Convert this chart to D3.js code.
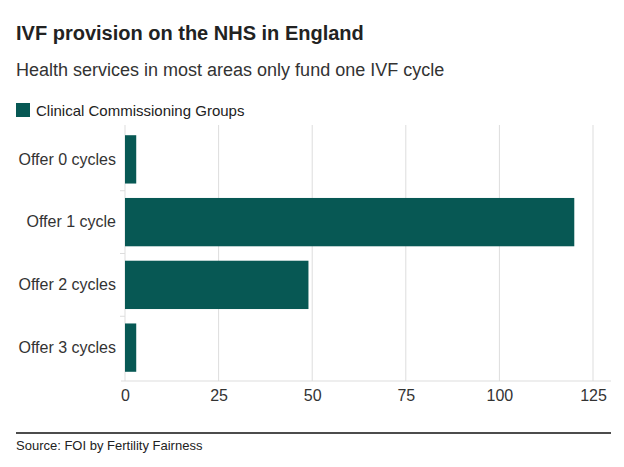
<!DOCTYPE html>
<html><head><meta charset="utf-8">
<script src="https://cdn.jsdelivr.net/npm/d3@7"></script>
<style>
body{margin:0;background:#fff;}
text{font-family:"Liberation Sans",Arial,Helvetica,sans-serif;}
</style></head>
<body><svg id="c" width="624" height="467"></svg>
<script>
const categories = ["Offer 0 cycles","Offer 1 cycle","Offer 2 cycles","Offer 3 cycles"];
const values = [3, 120, 49, 3];
const ticks = [0, 25, 50, 75, 100, 125];
const seriesName = "Clinical Commissioning Groups";

const svg = d3.select("#c");
const color = "#075854";
const textColor = "#222222";

svg.append("text").attr("x",16).attr("y",40).attr("font-size",20).attr("font-weight","bold").attr("fill",textColor).text("IVF provision on the NHS in England");
svg.append("text").attr("x",16).attr("y",76).attr("font-size",18).attr("fill","#333").text("Health services in most areas only fund one IVF cycle");
svg.append("rect").attr("x",16).attr("y",103).attr("width",14).attr("height",14).attr("fill",color);
svg.append("text").attr("x",36).attr("y",116).attr("font-size",15).attr("fill",textColor).text(seriesName);

const x = d3.scaleLinear().domain([0,125]).range([125,593]);
const y = d3.scaleBand().domain(categories).range([128,379]).paddingInner(0.23).paddingOuter(0.115);

// gridlines
svg.append("g").selectAll("line").data(ticks).join("line")
  .attr("x1",d=>x(d)).attr("x2",d=>x(d)).attr("y1",125).attr("y2",381)
  .attr("stroke","#dddddd").attr("stroke-width",1);

// bars
svg.append("g").selectAll("rect").data(values).join("rect")
  .attr("x",x(0)).attr("y",(d,i)=>y(categories[i]))
  .attr("width",d=>x(d)-x(0)).attr("height",y.bandwidth()).attr("fill",color);

// x axis
const xa = svg.append("g").attr("transform","translate(0,381)")
  .call(d3.axisBottom(x).tickValues(ticks).tickSize(0).tickPadding(9));
xa.select(".domain").remove();
xa.selectAll("text").attr("font-size",16).attr("fill","#333").attr("font-family","Liberation Sans, Arial, sans-serif");
svg.append("line").attr("x1",121).attr("x2",611).attr("y1",381).attr("y2",381).attr("stroke","#dddddd");

// y axis
const ya = svg.append("g").attr("transform","translate(116,0)")
  .call(d3.axisLeft(y).tickSize(0).tickPadding(0));
ya.select(".domain").remove();
ya.selectAll("text").attr("font-size",16).attr("fill","#333").attr("font-family","Liberation Sans, Arial, sans-serif");
// small band boundary ticks
const bounds = categories.slice(1).map(c=>y(c)-y.step()*y.paddingInner()/2);
svg.append("g").selectAll("line").data(bounds).join("line")
  .attr("x1",120).attr("x2",125).attr("y1",d=>d).attr("y2",d=>d).attr("stroke","#dddddd");

// footer
svg.append("line").attr("x1",16).attr("x2",611).attr("y1",433).attr("y2",433).attr("stroke","#111").attr("stroke-width",1.5);
svg.append("text").attr("x",16).attr("y",450).attr("font-size",13).attr("fill",textColor).text("Source: FOI by Fertility Fairness");
</script></body></html>
